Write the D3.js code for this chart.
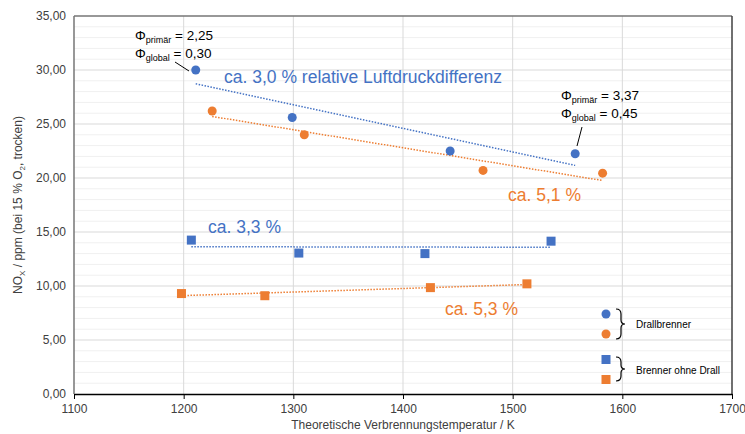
<!DOCTYPE html>
<html><head><meta charset="utf-8">
<script src="https://cdn.jsdelivr.net/npm/d3@7"></script>
<style>
body{margin:0;background:#fff;}
text{font-family:"Liberation Sans",Arial,sans-serif;}
</style></head>
<body><svg id="chart" width="745" height="434"></svg>
<script>
// Measured NOx emissions versus theoretical combustion temperature
const drallBlauT = [1211, 1299, 1443, 1557];
const drallBlauNOx = [30.0, 25.6, 22.5, 22.25];
const drallOrangeT = [1226, 1310, 1473, 1582];
const drallOrangeNOx = [26.2, 24.0, 20.7, 20.45];
const ohneBlauT = [1207, 1305, 1420, 1535];
const ohneBlauNOx = [14.25, 13.05, 13.0, 14.15];
const ohneOrangeT = [1198, 1274, 1425, 1513];
const ohneOrangeNOx = [9.3, 9.1, 9.85, 10.2];
const xTicks = [1100, 1200, 1300, 1400, 1500, 1600, 1700];
const yTicks = [0, 5, 10, 15, 20, 25, 30, 35];

const blue = "#4472C4", orange = "#ED7D31";
const svg = d3.select("#chart");
const L = 74, R = 732, T = 16, B = 394;
const x = d3.scaleLinear().domain([1100, 1700]).range([L, R]);
const y = d3.scaleLinear().domain([0, 35]).range([B, T]);

// minor horizontal grid
svg.append("g").selectAll("line").data(d3.range(0, 36, 1).filter(v => v % 5 !== 0))
  .join("line").attr("x1", L).attr("x2", R).attr("y1", d => y(d)).attr("y2", d => y(d))
  .attr("stroke", "#f0f0f0").attr("stroke-width", 1);
// major grid
svg.append("g").selectAll("line").data(yTicks.slice(1, -1))
  .join("line").attr("x1", L).attr("x2", R).attr("y1", d => y(d)).attr("y2", d => y(d))
  .attr("stroke", "#d9d9d9").attr("stroke-width", 1);
svg.append("g").selectAll("line").data(xTicks.slice(1, -1))
  .join("line").attr("y1", T).attr("y2", B).attr("x1", d => x(d)).attr("x2", d => x(d))
  .attr("stroke", "#d9d9d9").attr("stroke-width", 1);

// frame
svg.append("line").attr("x1", L).attr("x2", R).attr("y1", T).attr("y2", T).attr("stroke", "#767676").attr("stroke-width", 1.5);
svg.append("line").attr("x1", R).attr("x2", R).attr("y1", T).attr("y2", B).attr("stroke", "#404040").attr("stroke-width", 1.5);
svg.append("line").attr("x1", L).attr("x2", L).attr("y1", T).attr("y2", B).attr("stroke", "#767676").attr("stroke-width", 1.5);

// axes
const fmt = d3.formatLocale({decimal: ",", thousands: ".", grouping: [3], currency: ["", "€"]});
const xAxis = svg.append("g").attr("transform", `translate(0,${B})`)
  .call(d3.axisBottom(x).tickValues(xTicks).tickSize(5).tickSizeOuter(0).tickPadding(5).tickFormat(d3.format("d")));
xAxis.select(".domain").attr("stroke", "#000").attr("stroke-width", 1.5);
xAxis.selectAll(".tick line").attr("stroke", "#000");
xAxis.selectAll("text").attr("font-size", 12).attr("fill", "#404040").attr("font-family", "Liberation Sans, Arial, sans-serif");

const yAxis = svg.append("g").attr("transform", `translate(${L},0)`)
  .call(d3.axisLeft(y).tickValues(yTicks).tickSize(0).tickPadding(8).tickFormat(fmt.format(".2f")));
yAxis.select(".domain").remove();
yAxis.selectAll("text").attr("font-size", 12).attr("fill", "#404040").attr("font-family", "Liberation Sans, Arial, sans-serif");

svg.append("text").attr("x", (L + R) / 2).attr("y", 429).attr("text-anchor", "middle")
  .attr("font-size", 12).attr("fill", "#404040").text("Theoretische Verbrennungstemperatur / K");

const yl = svg.append("text").attr("transform", `translate(22,${(T + B) / 2}) rotate(-90)`)
  .attr("text-anchor", "middle").attr("font-size", 12).attr("fill", "#404040");
yl.append("tspan").text("NO");
yl.append("tspan").attr("font-size", 8).attr("dy", 3).text("X");
yl.append("tspan").attr("dy", -3).text(" / ppm (bei 15 % O");
yl.append("tspan").attr("font-size", 8).attr("dy", 3).text("2");
yl.append("tspan").attr("dy", -3).text(", trocken)");

// linear trend lines (least squares)
function trend(xs, ys, color) {
  const mx = d3.mean(xs), my = d3.mean(ys);
  const b = d3.sum(xs, (v, i) => (v - mx) * (ys[i] - my)) / d3.sum(xs, v => (v - mx) ** 2);
  const a = my - b * mx;
  const x0 = d3.min(xs), x1 = d3.max(xs);
  svg.append("line").attr("x1", x(x0)).attr("x2", x(x1))
    .attr("y1", y(a + b * x0)).attr("y2", y(a + b * x1))
    .attr("stroke", color).attr("stroke-width", 1.5).attr("stroke-dasharray", "1.5,1.5");
}
trend(drallBlauT, drallBlauNOx, blue);
trend(drallOrangeT, drallOrangeNOx, orange);
trend(ohneBlauT, ohneBlauNOx, blue);
trend(ohneOrangeT, ohneOrangeNOx, orange);

function circles(xs, ys, color) {
  svg.append("g").selectAll("circle").data(xs).join("circle")
    .attr("cx", d => x(d)).attr("cy", (d, i) => y(ys[i])).attr("r", 4.5).attr("fill", color);
}
function squares(xs, ys, color) {
  svg.append("g").selectAll("rect").data(xs).join("rect")
    .attr("x", d => x(d) - 4.5).attr("y", (d, i) => y(ys[i]) - 4.5)
    .attr("width", 9).attr("height", 9).attr("fill", color);
}
circles(drallBlauT, drallBlauNOx, blue);
circles(drallOrangeT, drallOrangeNOx, orange);
squares(ohneBlauT, ohneBlauNOx, blue);
squares(ohneOrangeT, ohneOrangeNOx, orange);

// series labels
const lab = (tx, ty, s, c) => svg.append("text").attr("x", tx).attr("y", ty)
  .attr("font-size", 17.5).attr("fill", c).text(s);
lab(224, 83, "ca. 3,0 % relative Luftdruckdifferenz", blue);
lab(508, 201, "ca. 5,1 %", orange);
lab(208, 233, "ca. 3,3 %", blue);
lab(445, 315, "ca. 5,3 %", orange);

// equivalence ratio annotations
function phi(tx, ty, sub, val) {
  const t = svg.append("text").attr("x", tx).attr("y", ty).attr("font-size", 13.5).attr("fill", "#000");
  t.append("tspan").text("Φ");
  t.append("tspan").attr("font-size", 9).attr("dy", 3).text(sub);
  t.append("tspan").attr("dy", -3).text(" = " + val);
}
phi(135, 40, "primär", "2,25");
phi(135, 58, "global", "0,30");
svg.append("line").attr("x1", 175).attr("y1", 62).attr("x2", 189).attr("y2", 71).attr("stroke", "#000").attr("stroke-width", 1);
phi(561, 100, "primär", "3,37");
phi(561, 118, "global", "0,45");
svg.append("line").attr("x1", 582).attr("y1", 127).attr("x2", 577).attr("y2", 146).attr("stroke", "#000").attr("stroke-width", 1);

// legend
function brace(bx, y0, y1) {
  const m = (y0 + y1) / 2;
  svg.append("path").attr("fill", "none").attr("stroke", "#000").attr("stroke-width", 1.2)
    .attr("d", `M${bx},${y0} Q${bx + 5},${y0} ${bx + 5},${y0 + 5} L${bx + 5},${m - 4} Q${bx + 5},${m} ${bx + 9},${m} Q${bx + 5},${m} ${bx + 5},${m + 4} L${bx + 5},${y1 - 5} Q${bx + 5},${y1} ${bx},${y1}`);
}
svg.append("circle").attr("cx", 606).attr("cy", 314).attr("r", 4.5).attr("fill", blue);
svg.append("circle").attr("cx", 606).attr("cy", 334).attr("r", 4.5).attr("fill", orange);
brace(616, 309, 339);
svg.append("text").attr("x", 636).attr("y", 328).attr("font-size", 10).attr("fill", "#000").text("Drallbrenner");
svg.append("rect").attr("x", 601.5).attr("y", 355).attr("width", 9).attr("height", 9).attr("fill", blue);
svg.append("rect").attr("x", 601.5).attr("y", 375).attr("width", 9).attr("height", 9).attr("fill", orange);
brace(616, 357, 381);
svg.append("text").attr("x", 636).attr("y", 374).attr("font-size", 10).attr("fill", "#000").text("Brenner ohne Drall");
</script></body></html>
